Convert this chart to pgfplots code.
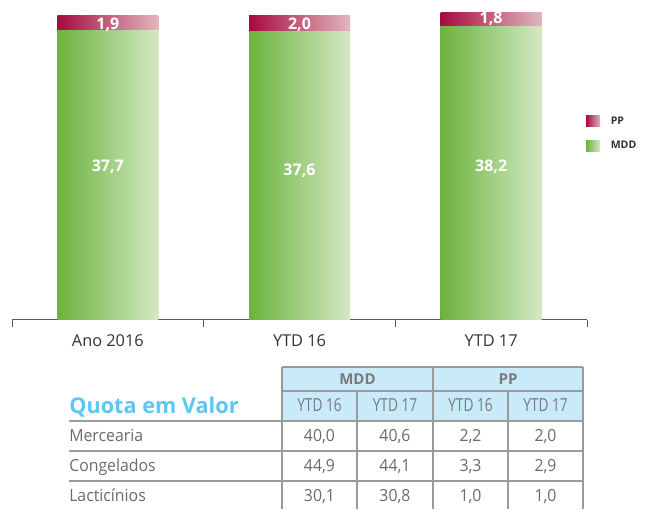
\documentclass[border=0pt]{standalone}
\usepackage{fontspec}
\setmainfont{Open Sans}
\newfontfamily\condfont[FakeStretch=0.76]{Open Sans}
\newfontfamily\bodyfont[FakeStretch=0.95]{Open Sans}
\usepackage{pgfplots}
\pgfplotsset{compat=1.18}
\definecolor{ppA}{HTML}{A50B40}
\definecolor{ppB}{HTML}{E2B6BD}
\definecolor{mdA}{HTML}{6CB33E}
\definecolor{mdB}{HTML}{D4E8C3}
\definecolor{axisgray}{HTML}{5A5A5A}
\definecolor{tline}{HTML}{9A9A9A}
\definecolor{thead}{HTML}{C8EAF9}
\definecolor{theadtxt}{HTML}{7B7B7B}
\definecolor{tbody}{HTML}{6B6B6B}
\definecolor{qcyan}{HTML}{5BC7F2}
\definecolor{labeltxt}{HTML}{333333}
\pgfplotsset{
  geom/.style={
    at={(9pt,141.75pt)}, anchor=south west,
    scale only axis, width=431.25pt, height=240pt,
    xmin=-0.5, xmax=2.5, ymin=0, ymax=41.67, clip=false},
  base/.style={geom, ybar stacked, bar width=75.75pt},
  mdd/.style={draw=none, left color=mdA, right color=mdB},
  pp/.style={draw=none, left color=ppA, right color=ppB},
}
\begin{document}
\begin{tikzpicture}
\begin{scope}[x=0.75pt,y=0.75pt]
\path[use as bounding box] (0,0) rectangle (645,509);
\end{scope}
\begin{axis}[base,
  axis x line*=bottom, axis y line=none,
  axis line style={draw=axisgray, line width=0.75pt},
  xtick={0,1,2}, xticklabels={Ano 2016, YTD 16, YTD 17},
  xtick pos=bottom,
  major tick length=0pt,
  minor xtick={-0.5,0.5,1.5,2.5}, minor tick length=5.25pt,
  tick align=outside,
  minor tick style={draw=axisgray, line width=0.75pt},
  ytick=\empty,
  xticklabel style={font=\fontsize{12.25pt}{14pt}\selectfont, text=labeltxt, anchor=base, yshift=-19.9pt},
  reverse legend,
  legend style={at={(rel axis cs:0.998,0.645)}, anchor=north west, draw=none, fill=none,
    inner sep=0pt, row sep=7.5pt, font=\bfseries\fontsize{7.9pt}{9pt}\selectfont, text=labeltxt,
    /tikz/every odd column/.append style={column sep=6pt}},
  legend cell align=left,
  legend image code/.code={\fill[#1] (0pt,-4.125pt) rectangle (10.5pt,4.125pt);},
]
\addplot[mdd] coordinates {(0,37.7)};
\addplot[pp] coordinates {(0,1.9)};
\legend{MDD, PP}
\end{axis}
\begin{axis}[base, hide axis]
\addplot[mdd] coordinates {(1,37.6)};
\addplot[pp] coordinates {(1,2.0)};
\end{axis}
\begin{axis}[base, hide axis]
\addplot[mdd] coordinates {(2,38.2)};
\addplot[pp] coordinates {(2,1.8)};
\end{axis}
% value labels
\begin{axis}[geom, hide axis]
\addplot[draw=none, mark=none, nodes near coords, point meta=explicit symbolic,
  every node near coord/.style={anchor=center, text=white, inner sep=0pt,
    text height=0.714em, text depth=0pt,
    font=\bfseries\fontsize{12pt}{14pt}\selectfont}]
  coordinates {(0,19.9) [37,7] (1,19.5) [37,6] (2,19.9) [38,2]
               (0,38.5) [1,9] (1,38.4) [2,0] (2,39.2) [1,8]};
\end{axis}
% table
\begin{scope}[x=0.75pt,y=0.75pt,
  hdr/.style={font=\bfseries\fontsize{11.25pt}{13pt}\selectfont, text=theadtxt, text height=0.714em, text depth=0pt, inner sep=0pt},
  sub/.style={font=\condfont\fontsize{13.5pt}{16pt}\selectfont, text=theadtxt, text height=0.714em, text depth=0pt, inner sep=0pt},
  val/.style={font=\bodyfont\fontsize{12.5pt}{15pt}\selectfont, text=tbody, text height=0.714em, text depth=0pt, inner sep=0pt},
  rowl/.style={val, anchor=west}]
\fill[thead] (282,142) rectangle (583,88);
\begin{scope}[line width=1pt, draw=tline]
\draw (282,142) -- (583,142);
\draw (282,118) -- (583,118);
\draw (69,88) -- (583,88);
\draw (69,58) -- (583,58);
\draw (69,28) -- (583,28);
\draw (282,142) -- (282,0);
\draw (433,142) -- (433,0);
\draw (583,142) -- (583,0);
\draw (357,118) -- (357,0);
\draw (508,118) -- (508,0);
\end{scope}
\node[font=\bfseries\fontsize{16.25pt}{19pt}\selectfont, text=qcyan, anchor=base west, inner sep=0pt] at (69,95) {Quota em Valor};
\node[hdr] at (357.5,129) {MDD};
\node[hdr] at (508,129) {PP};
\node[sub] at (319.5,102) {YTD 16};
\node[sub] at (395,102) {YTD 17};
\node[sub] at (470.5,102) {YTD 16};
\node[sub] at (545.5,102) {YTD 17};
\node[rowl] at (69,72) {Mercearia};
\node[rowl] at (69,42) {Congelados};
\node[rowl] at (69,12) {Lacticínios};
\node[val] at (319.5,72) {40,0};
\node[val] at (395,72) {40,6};
\node[val] at (470.5,72) {2,2};
\node[val] at (545.5,72) {2,0};
\node[val] at (319.5,42) {44,9};
\node[val] at (395,42) {44,1};
\node[val] at (470.5,42) {3,3};
\node[val] at (545.5,42) {2,9};
\node[val] at (319.5,12) {30,1};
\node[val] at (395,12) {30,8};
\node[val] at (470.5,12) {1,0};
\node[val] at (545.5,12) {1,0};
\end{scope}
\end{tikzpicture}
\end{document}
